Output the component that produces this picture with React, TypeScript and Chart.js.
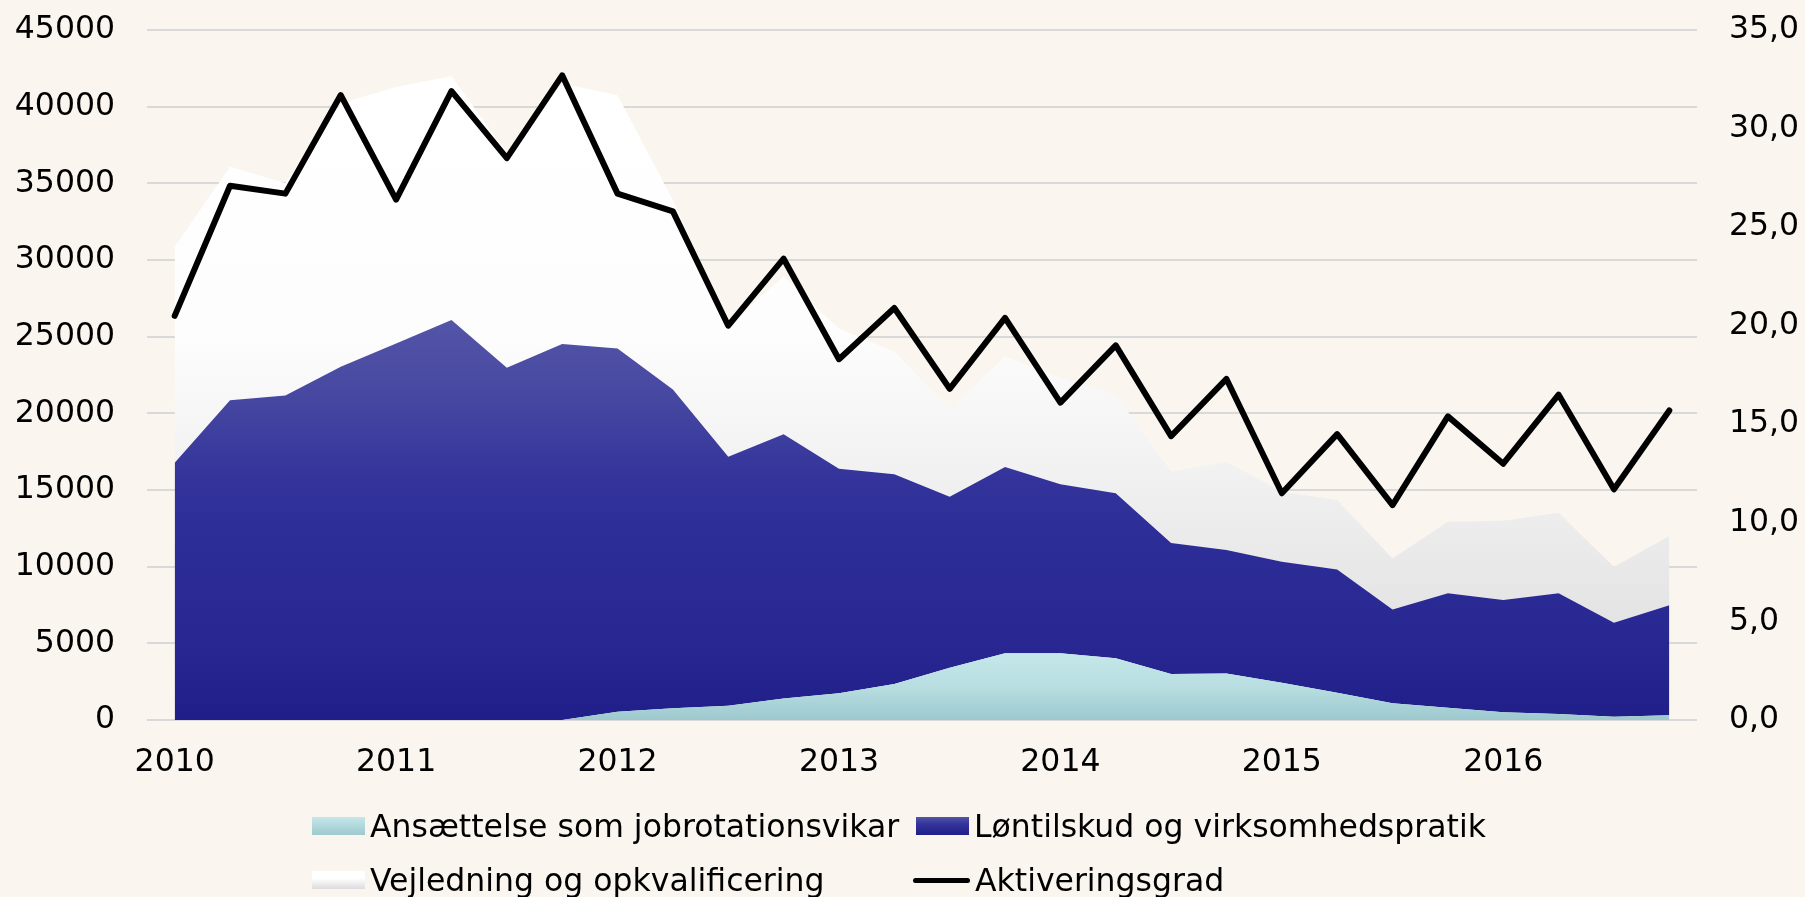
import React, { useEffect, useRef } from 'react';
import { Chart, registerables } from 'chart.js';

Chart.register(...registerables);

// Quarters 2010K1 .. 2016K4
const quarters = [
  '2010K1', '2010K2', '2010K3', '2010K4',
  '2011K1', '2011K2', '2011K3', '2011K4',
  '2012K1', '2012K2', '2012K3', '2012K4',
  '2013K1', '2013K2', '2013K3', '2013K4',
  '2014K1', '2014K2', '2014K3', '2014K4',
  '2015K1', '2015K2', '2015K3', '2015K4',
  '2016K1', '2016K2', '2016K3', '2016K4',
];

// Ansættelse som jobrotationsvikar (persons)
const jobrotation = [
  0, 0, 0, 0, 0, 0, 0, 0,
  540, 760, 930, 1410, 1740, 2350, 3410, 4350,
  4350, 4020, 3000, 3040, 2430, 1780, 1090, 800,
  500, 390, 220, 310,
];

// Løntilskud og virksomhedspratik (persons)
const loentilskud = [
  16780, 20860, 21170, 23040, 24560, 26080, 22970, 24520,
  23690, 20800, 16240, 17220, 14650, 13670, 11150, 12150,
  11020, 10760, 8540, 8040, 7890, 8040, 6120, 7460,
  7320, 7870, 6130, 7170,
];

// Vejledning og opkvalificering (persons)
const vejledning = [
  14080, 15220, 13830, 17160, 16730, 15910, 14030, 16990,
  16520, 12340, 8630, 10270, 9150, 7990, 5740, 7190,
  6930, 6410, 4660, 5760, 4570, 4520, 3330, 4670,
  5170, 5260, 3650, 4520,
];

// Aktiveringsgrad (pct., right axis)
const aktiveringsgrad = [
  20.5, 27.1, 26.7, 31.7, 26.4, 31.9, 28.5, 32.7,
  26.7, 25.8, 20.0, 23.4, 18.3, 20.9, 16.8, 20.4,
  16.1, 19.0, 14.4, 17.3, 11.5, 14.5, 10.9, 15.4,
  13.0, 16.5, 11.7, 15.7,
];

const seriesNames = [
  'Ansættelse som jobrotationsvikar',
  'Løntilskud og virksomhedspratik',
  'Vejledning og opkvalificering',
  'Aktiveringsgrad',
];

const FONT_FAMILY = '"DejaVu Sans", Verdana, sans-serif';
const FONT_SIZE = 31.5;
const BG = '#FAF6EF';

const tealStops: [number, string][] = [[0, '#C5E7E9'], [0.5, '#B8DEE1'], [1, '#9DC9CE']];
const blueStops: [number, string][] = [
  [0, '#5355A7'], [0.2, '#4647A1'], [0.4, '#33339B'], [0.55, '#2D2D98'], [0.8, '#292893'], [1, '#201F8A'],
];
const whiteStops: [number, string][] = [
  [0, '#FFFFFF'], [0.4, '#FDFDFD'], [0.6, '#F2F2F2'], [0.8, '#E6E6E6'], [1, '#DCDCDC'],
];

function gradientFill(stops: [number, string][], topOf: () => number) {
  return (ctx: any) => {
    const chart = ctx.chart;
    const area = chart.chartArea;
    const ys = chart.scales && chart.scales.y;
    if (!area || !ys) return stops[stops.length - 1][1];
    const y0 = ys.getPixelForValue(topOf());
    const y1 = ys.getPixelForValue(0);
    const g = chart.ctx.createLinearGradient(0, y0, 0, y1);
    stops.forEach(([o, c]) => g.addColorStop(o, c));
    return g;
  };
}

export default function App() {
  const ref = useRef<HTMLCanvasElement>(null);

  useEffect(() => {
    const font = { family: FONT_FAMILY, size: FONT_SIZE };
    const tealTop = () => Math.max(...jobrotation);
    const blueTop = () => Math.max(...jobrotation.map((v, i) => v + loentilskud[i]));
    const whiteTop = () =>
      Math.max(...jobrotation.map((v, i) => v + loentilskud[i] + vejledning[i]));

    const chart = new Chart(ref.current as HTMLCanvasElement, {
      type: 'line',
      data: {
        labels: quarters,
        datasets: [
          {
            label: seriesNames[0],
            data: jobrotation,
            yAxisID: 'y',
            fill: 'origin',
            backgroundColor: gradientFill(tealStops, tealTop),
            borderWidth: 0,
            pointRadius: 0,
            tension: 0,
            order: 1,
          },
          {
            label: seriesNames[1],
            data: loentilskud,
            yAxisID: 'y',
            fill: '-1',
            backgroundColor: gradientFill(blueStops, blueTop),
            borderWidth: 0,
            pointRadius: 0,
            tension: 0,
            order: 1,
          },
          {
            label: seriesNames[2],
            data: vejledning,
            yAxisID: 'y',
            fill: '-1',
            backgroundColor: gradientFill(whiteStops, whiteTop),
            borderWidth: 0,
            pointRadius: 0,
            tension: 0,
            order: 1,
          },
          {
            label: seriesNames[3],
            data: aktiveringsgrad,
            yAxisID: 'y1',
            fill: false,
            borderColor: '#000000',
            backgroundColor: '#000000',
            borderWidth: 6,
            borderJoinStyle: 'round',
            borderCapStyle: 'round',
            pointRadius: 0,
            tension: 0,
            order: 0,
          },
        ] as any,
      },
      options: {
        responsive: false,
        animation: false,
        devicePixelRatio: 1,
        layout: { padding: { top: 30, left: 0, right: 0, bottom: 0 } },
        plugins: {
          legend: { display: false },
          tooltip: { enabled: false },
        },
        scales: {
          x: {
            offset: true,
            grid: { display: false, drawTicks: false },
            border: { display: false },
            ticks: {
              autoSkip: false,
              maxRotation: 0,
              minRotation: 0,
              padding: 24,
              color: '#000000',
              font,
              callback: (_v: any, i: number) => (i % 4 === 0 ? quarters[i].slice(0, 4) : ''),
            },
            afterFit: (s: any) => {
              s.height = 177;
              s.paddingLeft = 0;
              s.paddingRight = 0;
            },
          },
          y: {
            stacked: true,
            min: 0,
            max: 45000,
            grid: { color: '#D9D9D9', lineWidth: 2, drawTicks: false },
            border: { display: false },
            ticks: {
              stepSize: 5000,
              padding: 32,
              color: '#000000',
              font,
              callback: (v: any) => String(v),
            },
            afterFit: (s: any) => {
              s.width = 147;
              s.paddingTop = 0;
              s.paddingBottom = 0;
            },
          },
          y1: {
            position: 'right',
            min: 0,
            max: 35,
            grid: { display: false, drawTicks: false },
            border: { display: false },
            ticks: {
              stepSize: 5,
              padding: 32,
              color: '#000000',
              font,
              callback: (v: any) => Number(v).toFixed(1).replace('.', ','),
            },
            afterFit: (s: any) => {
              s.width = 108;
              s.paddingTop = 0;
              s.paddingBottom = 0;
            },
          },
        },
      } as any,
    });
    return () => chart.destroy();
  }, []);

  const textStyle: React.CSSProperties = {
    fontFamily: FONT_FAMILY,
    fontSize: FONT_SIZE,
    lineHeight: '32px',
    color: '#000',
    whiteSpace: 'nowrap',
    marginLeft: 5,
  };

  const item = (left: number, centerY: number, swatch: React.ReactNode, text: string) => (
    <div
      style={{
        position: 'absolute',
        left,
        top: centerY - 16,
        height: 32,
        display: 'flex',
        alignItems: 'center',
      }}
    >
      {swatch}
      <span style={textStyle}>{text}</span>
    </div>
  );

  const box = (bg: string) => (
    <div style={{ width: 53, height: 18, background: bg, flex: 'none' }} />
  );

  return (
    <div
      style={{
        position: 'fixed',
        left: 0,
        top: 0,
        width: 1805,
        height: 897,
        background: BG,
        overflow: 'hidden',
      }}
    >
      <canvas ref={ref} width={1805} height={897} style={{ position: 'absolute', left: 0, top: 0 }} />
      {item(312, 826, box('linear-gradient(#C5E7E9, #9DC9CE)'), seriesNames[0])}
      {item(916, 826, box('linear-gradient(#5355A7, #33339B 40%, #201F8A)'), seriesNames[1])}
      {item(312, 880, box('linear-gradient(#FFFFFF 40%, #DCDCDC)'), seriesNames[2])}
      {item(
        913,
        880,
        <div style={{ width: 57, height: 5, background: '#000', borderRadius: 3, flex: 'none' }} />,
        seriesNames[3]
      )}
    </div>
  );
}
